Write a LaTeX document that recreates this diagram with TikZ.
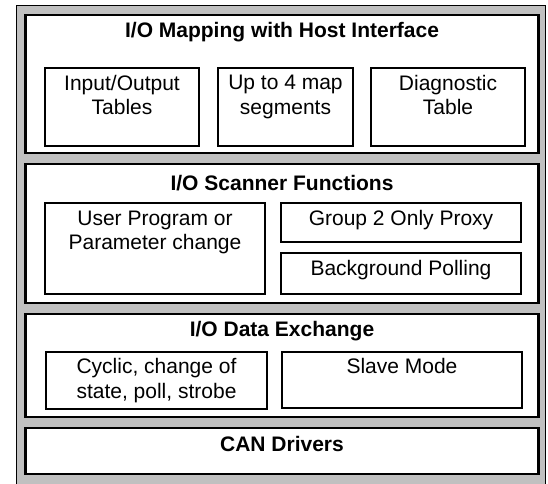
\documentclass[tikz,border=0pt]{standalone}
\usepackage{fontspec}
\setmainfont{Liberation Sans}
\definecolor{framegray}{RGB}{192,192,192}

\begin{document}
\begin{tikzpicture}[x=1pt, y=-1pt,
    layer/.style ={draw, line width=2.7pt, outer sep=0pt, fill=white, minimum width=513pt},
    part/.style ={draw, line width=1.4pt, outer sep=0pt, fill=white},
    heading/.style ={anchor=north, inner sep=0pt, font=\fontsize{21}{24.5}\selectfont\bfseries},
    entry/.style ={anchor=north, inner sep=0pt, align=center, font=\fontsize{21}{24.5}\selectfont}]
   \useasboundingbox (0,0) rectangle (548,483);
   \draw[fill=framegray, line width=1pt] (16,5) rectangle (545,495);
   % layers
   \node[layer, minimum height=138pt, label={[heading, yshift=-7.5pt]north:I/O Mapping with Host Interface}] (map) at (282,84) {};
   \node[layer, minimum height=139pt, label={[heading, yshift=-11pt]north:I/O Scanner Functions}] (scanner) at (282,233.5) {};
   \node[layer, minimum height=103pt, label={[heading, yshift=-7.5pt]north:I/O Data Exchange}] (exchange) at (282,365.5) {};
   \node[layer, minimum height=46pt, label={[heading, yshift=-8.5pt]north:CAN Drivers}] (can) at (282,451) {};
   % mapping parts
   \node[part, minimum width=154pt, minimum height=78pt, label={[entry, yshift=-7pt]north:{Input/Output\\Tables}}] (tables) at (122,107) {};
   \node[part, minimum width=135pt, minimum height=78pt, label={[entry, yshift=-7pt]north:{Up to 4 map\\segments}}] (segments) at (285.5,107) {};
   \node[part, minimum width=154pt, minimum height=78pt, label={[entry, yshift=-7pt]north:{Diagnostic\\Table}}] (diag) at (448,107) {};
   % scanner parts
   \node[part, minimum width=220pt, minimum height=91pt, label={[entry, yshift=-7.5pt]north:{User Program or\\Parameter change}}] (user) at (155,248.5) {};
   \node[part, minimum width=240pt, minimum height=39pt, label={[entry, yshift=-7.5pt]north:Group 2 Only Proxy}] (proxy) at (401,222.5) {};
   \node[part, minimum width=240pt, minimum height=41pt, label={[entry, yshift=-7.5pt]north:Background Polling}] (polling) at (401,273.5) {};
   % exchange parts
   \node[part, minimum width=221pt, minimum height=57pt, label={[entry, yshift=-6.5pt]north:{Cyclic, change of\\state, poll, strobe}}] (cyclic) at (156.5,380.5) {};
   \node[part, minimum width=240pt, minimum height=56pt, label={[entry, yshift=-6.5pt]north:Slave Mode}] (slave) at (402,380) {};
\end{tikzpicture}
\end{document}
